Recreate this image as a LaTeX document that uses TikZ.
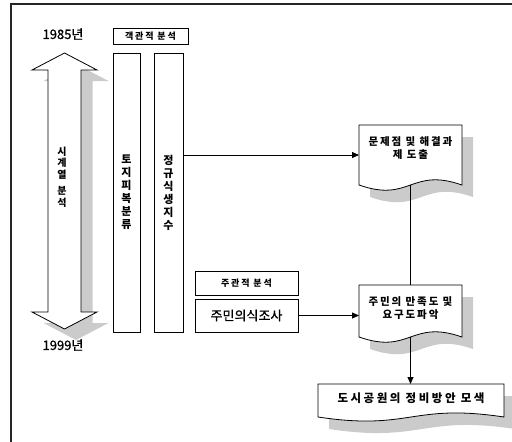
\documentclass[tikz,border=0pt]{standalone}
\usepackage{fontspec}
\setmainfont{Noto Sans CJK KR}
\usetikzlibrary{arrows.meta,shadows}
\definecolor{shadowgray}{HTML}{CBCBCB}
\tikzset{
  framepen/.style={draw=black!85, line width=1.4pt},
  plainbox/.style={draw, line width=0.8pt, fill=white, inner sep=0pt},
  tagbox/.style={draw, line width=0.9pt, fill=white, inner sep=0pt,
    drop shadow={shadow xshift=1pt, shadow yshift=-1pt, fill=black!80, opacity=1},
    font=\bfseries\fontsize{9}{10}\selectfont\addfontfeatures{LetterSpace=20}},
  conn/.style={line width=0.8pt},
  arr/.style={conn, -{Triangle[length=7pt,width=6pt]}},
  shadowfill/.style={fill=shadowgray, draw=none},
  docline/.style={draw, line width=0.8pt, fill=white},
  doctext/.style={font=\bfseries\fontsize{10.5}{13.5}\selectfont\addfontfeatures{LetterSpace=18}, align=center, inner sep=0pt},
  yeartext/.style={font=\fontsize{13}{15}\selectfont\addfontfeatures{FakeBold=1}, inner sep=0pt},
  vtext/.style={font=\bfseries\fontsize{11}{13}\selectfont, align=center, inner sep=0pt},
  docpath/.style n args={5}{insert path={(#1,#3) -- (#2,#3) -- (#2,#4) .. controls ({(#1+#2)/2},{#4-#5}) and ({(#1+#2)/2},{#4+#5}) .. (#1,#4) -- cycle}},
  bigarrow/.style={insert path={(64.5,53) -- (97,70) -- (81,70) -- (81,312) -- (97,312) -- (64.5,329) -- (32,312) -- (48,312) -- (48,70) -- (32,70) -- cycle}},
}
\begin{document}
\begin{tikzpicture}[x=1pt,y=-1pt]
\useasboundingbox (0,0) rectangle (512,442);
\clip (0,0) rectangle (512,442);
% frame
\draw[framepen] (11,470) -- (11,4) -- (540,4);

% time-series double arrow
\fill[shadowfill, shift={(11.5,11)}, bigarrow];
\draw[line width=0.8pt, fill=white, bigarrow];

\node[yeartext] (y1985) at (63,34) {1985년};
\node[yeartext] (y1999) at (63,345) {1999년};
\node[vtext, font=\bfseries\fontsize{10}{11.5}\selectfont] (tser) at (62,177) {시\\계\\열\\[5pt]분\\석};

% objective analysis
\node[tagbox, minimum width=75pt, minimum height=16pt] (obj) at (150.5,36) {객관적 분석};
\node[plainbox, minimum width=27pt, minimum height=279pt, vtext] (land) at (126.5,192.5) {토\\지\\피\\복\\분\\류};
\node[plainbox, minimum width=29pt, minimum height=279pt, vtext] (ndvi) at (168.5,192.5) {정\\규\\식\\생\\지\\수};

% subjective analysis
\node[tagbox, minimum width=103pt, minimum height=24pt] (subj) at (246.5,283) {주관적 분석};
\node[plainbox, minimum width=103pt, minimum height=33pt, font=\fontsize{13}{15}\selectfont\addfontfeatures{FakeBold=1}] (survey) at (246.5,315.5) {주민의식조사};

% documents
\fill[shadowfill, shift={(11,12)}, docpath={359}{462}{125}{185}{18}];
\draw[docline, docpath={359}{462}{125}{185}{18}];
\node[doctext] (prob) at (410.5,148) {문제점 및 해결과\\제 도출};

\fill[shadowfill, shift={(11,12)}, docpath={359}{462}{285}{337}{18}];
\draw[docline, docpath={359}{462}{285}{337}{18}];
\node[doctext] (need) at (410.5,308) {주민의 만족도 및\\요구도파악};

\fill[shadowfill, shift={(11,12)}, docpath={318}{504}{384}{417}{14}];
\draw[docline, docpath={318}{504}{384}{417}{14}];
\node[doctext, font=\bfseries\fontsize{11.5}{13.5}\selectfont\addfontfeatures{LetterSpace=22}] (plan) at (411,398) {도시공원의 정비방안 모색};

\coordinate (probW) at (359,155);
\coordinate (probS) at (410.5,185);
\coordinate (needN) at (410.5,285);
\coordinate (needW) at (359,316);
\coordinate (needS) at (410.5,337);
\coordinate (planN) at (410.5,384);

\draw[arr] (ndvi.east |- probW) -- (probW);
\draw[conn] (probS) -- (needN);
\draw[arr] (survey.east) -- (survey.east -| needW);
\draw[arr] (needS) -- (planN);
\end{tikzpicture}
\end{document}
